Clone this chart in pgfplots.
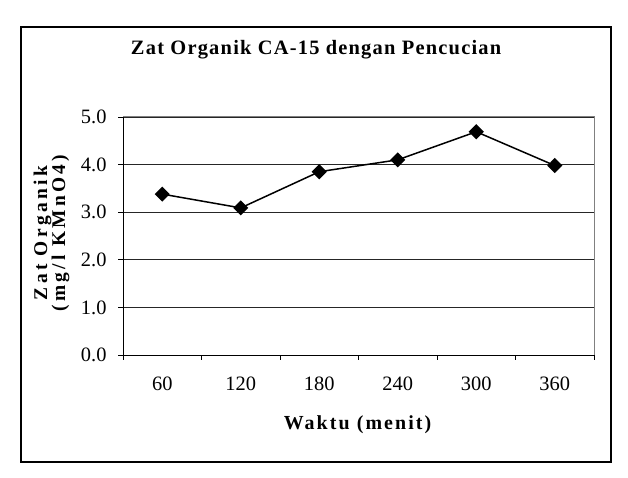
\documentclass[border=0pt]{standalone}
\usepackage{pgfplots}
\pgfplotsset{compat=1.18}
\usepackage{fontspec}
\setmainfont{Liberation Serif}
\newfontfamily\titlefont[LetterSpace=6]{Liberation Serif}
\newfontfamily\xlabelfont[LetterSpace=10.5]{Liberation Serif}
\newfontfamily\ylabelfont[LetterSpace=17]{Liberation Serif}
\begin{document}
\begin{tikzpicture}[x=1bp,y=1bp]
\useasboundingbox (0,0) rectangle (628,478);
\draw[line width=1.2bp] (21,16) rectangle (611,451);
\begin{axis}[
  at={(123bp,123bp)}, anchor=south west,
  scale only axis, width=471bp, height=238bp,
  xmin=0.5, xmax=6.5, ymin=0, ymax=5,
  axis x line*=bottom, axis y line*=left,
  axis line style={-, black, line width=0.9bp},
  xtick={0.5,1.5,2.5,3.5,4.5,5.5,6.5},
  xticklabels={},
  extra x ticks={1,2,3,4,5,6},
  extra x tick labels={60,120,180,240,300,360},
  extra x tick style={major tick length=0pt},
  ytick={0,1,2,3,4,5},
  tick align=outside,
  major tick length=5bp,
  tick style={black, line width=0.8bp},
  ymajorgrids,
  major grid style={black!85, line width=0.8bp},
  /pgf/number format/assume math mode=true,
  yticklabel style={xshift=-8bp, /pgf/number format/.cd, fixed, fixed zerofill, precision=1},
  xticklabel style={yshift=-18bp},
  ticklabel style={font=\fontsize{20.5}{24}\selectfont},
  title={Zat Organik CA-15 dengan Pencucian},
  title style={at={(axis description cs:0.41,1)}, anchor=base, yshift=57bp, font=\titlefont\bfseries\fontsize{20.5}{23}\selectfont},
  xlabel={Waktu (menit)},
  xlabel style={at={(axis description cs:0.498,0)}, anchor=base, yshift=-75bp, font=\xlabelfont\bfseries\fontsize{20}{22}\selectfont},
  ylabel={Zat Organik\\(mg/l KMnO4)},
  ylabel style={at={(axis description cs:0,0.512)}, anchor=center, yshift=71.5bp, align=center, font=\ylabelfont\bfseries\fontsize{19.5}{18}\selectfont},
  clip=false,
]
\draw[gray, line width=1bp] (rel axis cs:0,1) -- (rel axis cs:1,1) -- (rel axis cs:1,0);
\addplot[black, line width=1.5bp, mark=diamond*, mark size=6.5bp, mark options={xscale=1.33, fill=black}]
  coordinates {(1,3.38) (2,3.09) (3,3.85) (4,4.10) (5,4.69) (6,3.98)};
\end{axis}
\end{tikzpicture}
\end{document}
